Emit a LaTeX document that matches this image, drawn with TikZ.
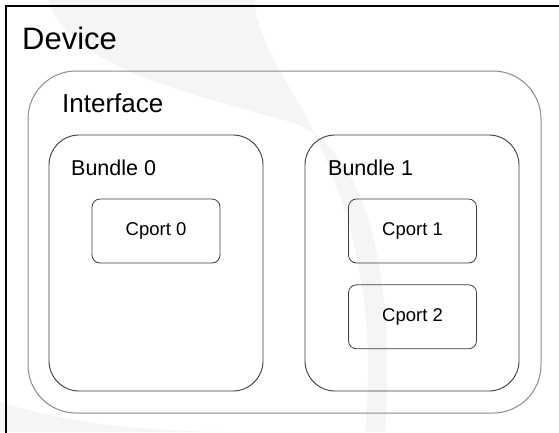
\documentclass[tikz,border=0pt]{standalone}
\usepackage{fontspec}
\setmainfont{Liberation Sans}
\usetikzlibrary{positioning}
\definecolor{framegray}{RGB}{140,140,140}
\definecolor{boxgray}{RGB}{60,60,60}
\definecolor{swoosh}{RGB}{245,245,247}

\tikzset{
  ifacebox/.style={draw=framegray, line width=1pt, rounded corners=48pt,
    minimum width=513pt, minimum height=342pt, inner sep=0pt},
  bundlebox/.style={draw=boxgray, line width=0.9pt, rounded corners=30pt,
    minimum width=214pt, minimum height=256pt, inner sep=0pt},
  cportbox/.style={draw=boxgray, line width=0.8pt, rounded corners=8pt,
    minimum width=128pt, minimum height=64pt, inner sep=0pt,
    font=\fontsize{18.5}{22}\selectfont},
  title/.style={anchor=base west, inner sep=0pt},
}

\begin{document}
\begin{tikzpicture}[x=1pt, y=-1pt]
  \useasboundingbox (0,0) rectangle (559,432);
  \clip (0,0) rectangle (559,432);
  \fill[white] (0,0) rectangle (559,432);

  % faint background swirl
  \fill[swoosh] (48,0) .. controls (70,70) and (200,95) .. (300,125)
    .. controls (370,160) and (395,280) .. (385,432) -- (365,432)
    .. controls (378,300) and (350,185) .. (285,80)
    .. controls (265,45) and (255,20) .. (255,0) -- cycle;
  \fill[swoosh] (0,402) .. controls (60,420) and (120,430) .. (220,432) -- (0,432) -- cycle;

  % device frame runs off the page
  \draw[black, line width=1.2pt] (6,460) -- (6,6) -- (580,6);
  \node[title, font=\fontsize{31}{36}\selectfont] (devtxt) at (22,49) {Device};

  \node[ifacebox] (iface) at (284.5,242) {};
  \node[title, font=\fontsize{26}{30}\selectfont] (ifacetxt) at (62,112) {Interface};

  \node[bundlebox] (bundle0) at (156,263) {};
  \node[bundlebox] (bundle1) at (412,263) {};
  \node[title, font=\fontsize{21.5}{26}\selectfont] (b0txt) at (71,175) {Bundle 0};
  \node[title, font=\fontsize{21.5}{26}\selectfont] (b1txt) at (328,175) {Bundle 1};

  \node[cportbox] (cport0) at (156,231) {Cport 0};
  \node[cportbox] (cport1) at (412.5,231) {Cport 1};
  \node[cportbox, below=21pt of cport1] (cport2) {Cport 2};
\end{tikzpicture}
\end{document}
